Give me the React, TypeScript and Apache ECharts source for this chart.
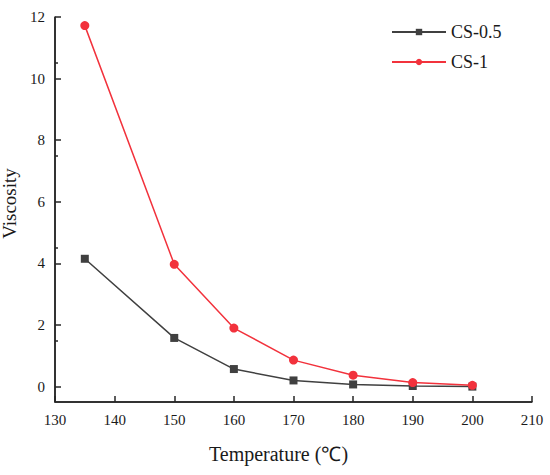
import React, { useEffect, useRef } from "react";
import * as echarts from "echarts";

const temperatures = [135, 150, 160, 170, 180, 190, 200];
const cs05 = [4.15, 1.58, 0.57, 0.2, 0.07, 0.02, 0.0];
const cs1 = [11.72, 3.97, 1.9, 0.86, 0.37, 0.13, 0.04];
const yMajorTicks = [0, 2, 4, 6, 8, 10, 12];

const X_MIN = 130;
const X_MAX = 210;
const Y_MIN = -0.5;
const Y_MAX = 12;

const FONT = "Liberation Serif";
const INK = "#262626";
const TEXT = "#1a1a1a";

export default function App() {
  const ref = useRef<HTMLDivElement>(null);
  useEffect(() => {
    document.body.style.margin = "0";
    if (!ref.current) return;
    const chart = echarts.init(ref.current, null, { renderer: "svg" });
    const pairs = (ys: number[]) => temperatures.map((t, i) => [t, ys[i]]);
    const axisFrame = {
      type: "line",
      data: [
        [X_MIN, Y_MAX],
        [X_MIN, Y_MIN],
        [X_MAX, Y_MIN],
      ],
      symbol: "none",
      silent: true,
      clip: false,
      legendHoverLink: false,
      lineStyle: { color: INK, width: 1.5 },
      z: 2,
    };
    chart.setOption({
      animation: false,
      backgroundColor: "#ffffff",
      grid: { left: 55, top: 17, right: 18, bottom: 73, containLabel: false, outerBoundsMode: "none" },
      legend: {
        orient: "vertical",
        left: 386,
        top: 18,
        itemWidth: 54,
        itemHeight: 8,
        itemGap: 12,
        textStyle: { fontFamily: FONT, fontSize: 18, color: TEXT },
        data: ["CS-0.5", "CS-1"],
      },
      xAxis: {
        type: "value",
        min: X_MIN,
        max: X_MAX,
        interval: 10,
        name: "Temperature (℃)",
        nameLocation: "middle",
        nameGap: 42,
        nameTextStyle: { fontFamily: FONT, fontSize: 20, color: TEXT, padding: [0, 30, 0, 0] },
        axisLine: { show: true, onZero: false, lineStyle: { color: INK, width: 1.5 } },
        axisTick: { show: true, inside: true, length: 6, lineStyle: { color: INK, width: 1.5 } },
        axisLabel: { fontFamily: FONT, fontSize: 15, color: TEXT, margin: 10 },
        splitLine: { show: false },
      },
      yAxis: {
        type: "value",
        min: Y_MIN,
        max: Y_MAX,
        name: "Viscosity",
        nameLocation: "middle",
        nameGap: 33,
        nameTextStyle: { fontFamily: FONT, fontSize: 19, color: TEXT, padding: [0, 0, 0, 12] },
        axisLine: { show: true, onZero: false, lineStyle: { color: INK, width: 1.5 } },
        axisTick: {
          show: true,
          inside: true,
          length: 6,
          customValues: yMajorTicks,
          lineStyle: { color: INK, width: 1.5 },
        },
        minorTick: { show: true, splitNumber: 2, length: 3, lineStyle: { color: INK, width: 1.5 } },
        axisLabel: {
          fontFamily: FONT,
          fontSize: 15,
          color: TEXT,
          margin: 10,
          customValues: yMajorTicks,
        },
        splitLine: { show: false },
      },
      series: [
        axisFrame,
        {
          name: "CS-0.5",
          type: "line",
          data: pairs(cs05),
          symbol: "rect",
          symbolSize: 8,
          lineStyle: { color: "#404040", width: 1.5 },
          itemStyle: { color: "#404040" },
          z: 3,
        },
        {
          name: "CS-1",
          type: "line",
          data: pairs(cs1),
          symbol: "circle",
          symbolSize: 9,
          lineStyle: { color: "#f2323c", width: 1.5 },
          itemStyle: { color: "#f2323c" },
          z: 4,
        },
      ],
    });
    return () => chart.dispose();
  }, []);
  return (
    <div
      ref={ref}
      style={{ position: "absolute", left: 0, top: 0, width: 550, height: 475 }}
    />
  );
}
